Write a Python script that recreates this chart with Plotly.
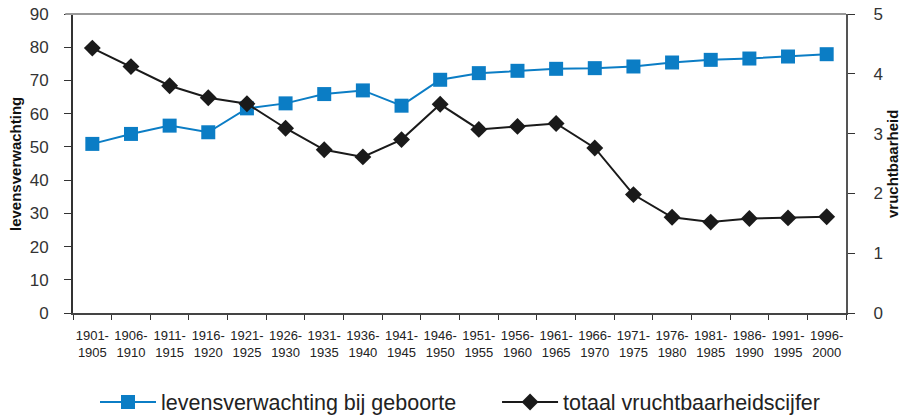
import plotly.graph_objects as go

periods = ["1901-<br>1905", "1906-<br>1910", "1911-<br>1915", "1916-<br>1920", "1921-<br>1925",
           "1926-<br>1930", "1931-<br>1935", "1936-<br>1940", "1941-<br>1945", "1946-<br>1950",
           "1951-<br>1955", "1956-<br>1960", "1961-<br>1965", "1966-<br>1970", "1971-<br>1975",
           "1976-<br>1980", "1981-<br>1985", "1986-<br>1990", "1991-<br>1995", "1996-<br>2000"]

levensverwachting = [50.9, 53.9, 56.4, 54.4, 61.6, 63.1, 65.9, 67.0, 62.4, 70.2,
                     72.2, 72.9, 73.5, 73.7, 74.2, 75.4, 76.2, 76.6, 77.2, 77.9]

vruchtbaarheid = [4.43, 4.12, 3.80, 3.60, 3.50, 3.09, 2.73, 2.61, 2.90, 3.49,
                  3.07, 3.12, 3.17, 2.76, 1.98, 1.60, 1.52, 1.58, 1.59, 1.61]

left_ticks = [0, 10, 20, 30, 40, 50, 60, 70, 80, 90]
right_ticks = [0, 1, 2, 3, 4, 5]

BLUE = "#0B7DC5"
BLACK = "#1a1a1a"
FONT = "Liberation Sans, Arial, sans-serif"

W, H = 902, 416
L, T, PW, PH = 73, 14, 773, 299

fig = go.Figure()
fig.add_trace(go.Scatter(
    x=periods, y=levensverwachting, name="levensverwachting bij geboorte" + "\u00a0" * 6,
    mode="lines+markers", line=dict(color=BLUE, width=2),
    marker=dict(symbol="square", size=14, color=BLUE), yaxis="y"))
fig.add_trace(go.Scatter(
    x=periods, y=vruchtbaarheid, name="totaal vruchtbaarheidscijfer",
    mode="lines+markers", line=dict(color=BLACK, width=2),
    marker=dict(symbol="diamond", size=13, color=BLACK), yaxis="y2"))

fig.update_layout(
    width=W, height=H,
    margin=dict(l=L, r=W - L - PW, t=T, b=H - T - PH, pad=0),
    paper_bgcolor="white", plot_bgcolor="white",
    font=dict(family=FONT, color="#333333"),
    showlegend=True,
    legend=dict(orientation="h", x=(95 - L) / PW, xanchor="left",
                yref="container", y=1 - 402 / H, yanchor="middle",
                font=dict(family=FONT, size=21.5, color="#222222"),
                itemwidth=56, traceorder="normal"),
    xaxis=dict(type="category", range=[-0.5, 19.5], tickson="boundaries",
               ticks="outside", ticklen=5, tickcolor="#333333",
               showline=True, linecolor="#444444", linewidth=2,
               showgrid=False, zeroline=False, automargin=False,
               ticklabelstandoff=9,
               tickfont=dict(family=FONT, size=13, color="#222222"),
               tickangle=0),
    yaxis=dict(range=[0, 90], tickvals=left_ticks, ticks="outside", ticklen=7,
               tickcolor="#333333", showline=True, linecolor="#333333", linewidth=2,
               showgrid=False, zeroline=False, ticklabelstandoff=12, automargin=False,
               ticklabeloverflow="allow",
               tickfont=dict(size=17, color="#333333")),
    yaxis2=dict(range=[0, 5], tickvals=right_ticks, overlaying="y", side="right",
                ticks="outside", ticklen=7, tickcolor="#333333",
                showline=True, linecolor="#555555", linewidth=2, automargin=False,
                showgrid=False, zeroline=False, ticklabelstandoff=15,
                ticklabeloverflow="allow",
                tickfont=dict(size=17, color="#333333")),
    annotations=[
        dict(text="<b>levensverwachting</b>", xref="paper", yref="paper",
             x=(15.5 - L) / PW, y=0.5, textangle=-90, showarrow=False,
             xanchor="center", yanchor="middle", font=dict(size=15, color="#111111")),
        dict(text="<b>vruchtbaarheid</b>", xref="paper", yref="paper",
             x=(892.5 - L) / PW, y=0.5, textangle=-90, showarrow=False,
             xanchor="center", yanchor="middle", font=dict(size=15, color="#111111")),
    ],
)

fig.add_shape(type="line", xref="paper", yref="paper", x0=-0.01, x1=1, y0=1, y1=1,
              line=dict(color="#999999", width=2))

fig.write_html("out.html", config={"displayModeBar": False},
               post_script="document.body.style.margin='0px';")
